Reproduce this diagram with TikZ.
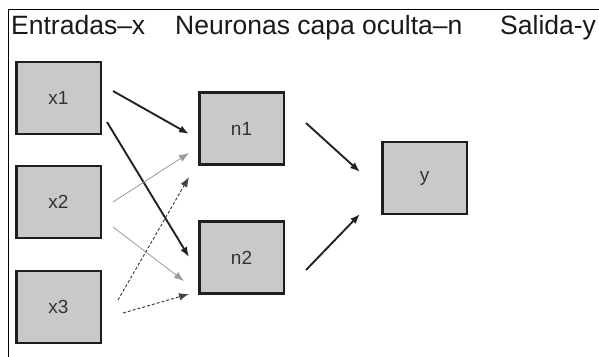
\documentclass[tikz,border=0pt]{standalone}
\usepackage{fontspec}
\setmainfont{Liberation Sans}
\usetikzlibrary{arrows.meta}
\definecolor{boxfill}{HTML}{C9C9CB}
\definecolor{boxline}{HTML}{1E1E1E}
\definecolor{labeltext}{HTML}{333333}
\definecolor{strongline}{HTML}{222222}
\definecolor{lightline}{HTML}{9A9A9A}
\definecolor{dashline}{HTML}{444444}
\tikzset{
  unitbox/.style={draw=boxline, line width=2.5pt, fill=boxfill,
    minimum width=84.5pt, minimum height=72pt, inner sep=0pt,
    text=labeltext, font=\fontsize{19}{22}\selectfont},
  heading/.style={anchor=base west, inner sep=0pt, text=black!90,
    font=\fontsize{26.5}{30}\selectfont},
  frameline/.style={line width=1.5pt, draw=black},
  strong/.style={draw=strongline, line width=1.9pt,
    -{Latex[length=10pt,width=7.5pt]}},
  light/.style={draw=lightline, line width=0.8pt,
    -{Latex[length=10pt,width=7.5pt]}},
  dashlink/.style={draw=dashline, line width=1pt, dash pattern=on 3pt off 2pt,
    -{Latex[length=10pt,width=7.5pt,sep=0pt] . }},
}
\begin{document}
\begin{tikzpicture}[x=1pt, y=-1pt]
  \useasboundingbox (0,0) rectangle (599,356);

  % open frame: left and top edges only
  \coordinate (frameTL) at (8.5,9.5);
  \coordinate (frameTR) at (600,9.5);
  \coordinate (frameBL) at (8.5,357);
  \draw[frameline] (frameBL) -- (frameTL) -- (frameTR);

  % column headings
  \node[heading] (hin)  at (11,34)  {Entradas–x};
  \node[heading] (hhid) at (175,34) {Neuronas capa oculta–n};
  \node[heading] (hout) at (500,34) {Salida-y};

  % input, hidden and output units
  \node[unitbox] (x1) at (58.5,98)  {\raisebox{-4pt}{x1}};
  \node[unitbox] (x2) at (58.5,202) {\raisebox{-4pt}{x2}};
  \node[unitbox] (x3) at (58.5,307) {\raisebox{-4pt}{x3}};
  \node[unitbox] (n1) at (241.5,128.5) {\raisebox{-3pt}{n1}};
  \node[unitbox] (n2) at (241.5,257.5) {\raisebox{-3pt}{n2}};
  \node[unitbox] (y)  at (424.5,178)   {\raisebox{-3pt}{y}};

  % free-floating ends of the weight arrows
  \coordinate (a1s) at (113,91);  \coordinate (a1e) at (189,134);
  \coordinate (a2s) at (107,122); \coordinate (a2e) at (189,257);
  \coordinate (b1s) at (113,202); \coordinate (b1e) at (189,153);
  \coordinate (b2s) at (113,227); \coordinate (b2e) at (184,281);
  \coordinate (c1s) at (118,300); \coordinate (c1e) at (189,177);
  \coordinate (c2s) at (123,313); \coordinate (c2e) at (189,294);
  \coordinate (d1s) at (306,123); \coordinate (d1e) at (360,172);
  \coordinate (d2s) at (306,270); \coordinate (d2e) at (360,214);

  % x1 -> hidden layer
  \draw[strong] (a1s) -- (a1e);
  \draw[strong] (a2s) -- (a2e);
  % x2 -> hidden layer
  \draw[light] (b1s) -- (b1e);
  \draw[light] (b2s) -- (b2e);
  % x3 -> hidden layer
  \draw[dashlink] (c1s) -- (c1e);
  \draw[dashlink] (c2s) -- (c2e);
  % hidden layer -> output
  \draw[strong] (d1s) -- (d1e);
  \draw[strong] (d2s) -- (d2e);
\end{tikzpicture}
\end{document}
